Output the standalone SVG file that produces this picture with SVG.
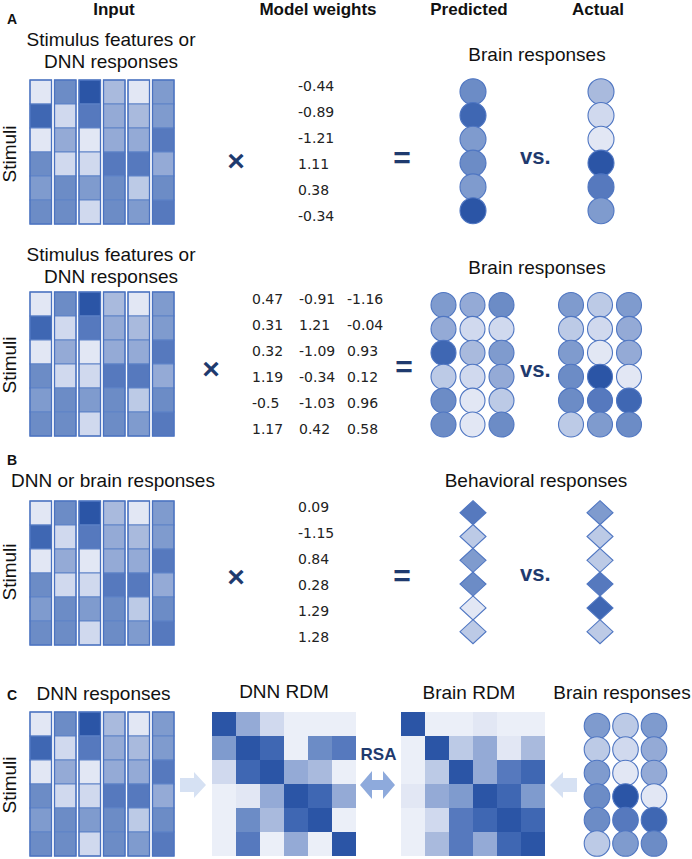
<svg xmlns="http://www.w3.org/2000/svg" xmlns:xlink="http://www.w3.org/1999/xlink" width="692" height="859" viewBox="0 0 692 859">
<style>
.c0{fill:#e2e7f4}.c1{fill:#d0d9ee}.c2{fill:#bccae6}.c3{fill:#a9badd}.c4{fill:#94aad6}
.c5{fill:#7f9bce}.c6{fill:#6c8cc6}.c7{fill:#5679be}.c8{fill:#3f67b3}.c9{fill:#2b55a6}.r0{fill:#ebeff8}
.cell rect{stroke:#5f83c8;stroke-width:1}
.colo{fill:none;stroke:#4a72c0;stroke-width:1.3}
.dot circle,.dot polygon{stroke:#4f76c2;stroke-width:1.1}
.t{font-family:"Liberation Sans",Arial,sans-serif;font-size:19px;fill:#111}
.h{font-family:"Liberation Sans",Arial,sans-serif;font-size:17px;font-weight:bold;fill:#111;text-anchor:middle}
.lab{font-family:"Liberation Sans",Arial,sans-serif;font-size:14px;font-weight:bold;fill:#111}
.w{font-family:"DejaVu Sans",sans-serif;font-size:14px;fill:#222}
.op{font-family:"Liberation Sans",Arial,sans-serif;font-size:30px;font-weight:bold;fill:#1f3a6e;text-anchor:middle}
.vs{font-family:"Liberation Sans",Arial,sans-serif;font-size:22px;font-weight:bold;fill:#1f3a6e}
.mid{text-anchor:middle}
.la{fill:#d6e1f3}.da{fill:#8eaadc}
</style>
<defs>
<g id="mat">
<g class="cell">
<rect class="c0" x="30" y="0" width="21.5" height="24"/><rect class="c8" x="30" y="24" width="21.5" height="24"/><rect class="c0" x="30" y="48" width="21.5" height="24"/><rect class="c6" x="30" y="72" width="21.5" height="24"/><rect class="c5" x="30" y="96" width="21.5" height="24"/><rect class="c6" x="30" y="120" width="21.5" height="24"/>
<rect class="c6" x="54.5" y="0" width="21.5" height="24"/><rect class="c1" x="54.5" y="24" width="21.5" height="24"/><rect class="c4" x="54.5" y="48" width="21.5" height="24"/><rect class="c1" x="54.5" y="72" width="21.5" height="24"/><rect class="c6" x="54.5" y="96" width="21.5" height="24"/><rect class="c6" x="54.5" y="120" width="21.5" height="24"/>
<rect class="c9" x="79" y="0" width="21.5" height="24"/><rect class="c7" x="79" y="24" width="21.5" height="24"/><rect class="c0" x="79" y="48" width="21.5" height="24"/><rect class="c1" x="79" y="72" width="21.5" height="24"/><rect class="c5" x="79" y="96" width="21.5" height="24"/><rect class="c1" x="79" y="120" width="21.5" height="24"/>
<rect class="c3" x="103.5" y="0" width="21.5" height="24"/><rect class="c4" x="103.5" y="24" width="21.5" height="24"/><rect class="c4" x="103.5" y="48" width="21.5" height="24"/><rect class="c7" x="103.5" y="72" width="21.5" height="24"/><rect class="c6" x="103.5" y="96" width="21.5" height="24"/><rect class="c6" x="103.5" y="120" width="21.5" height="24"/>
<rect class="c0" x="128" y="0" width="21.5" height="24"/><rect class="c3" x="128" y="24" width="21.5" height="24"/><rect class="c4" x="128" y="48" width="21.5" height="24"/><rect class="c7" x="128" y="72" width="21.5" height="24"/><rect class="c2" x="128" y="96" width="21.5" height="24"/><rect class="c5" x="128" y="120" width="21.5" height="24"/>
<rect class="c5" x="152.5" y="0" width="21.5" height="24"/><rect class="c5" x="152.5" y="24" width="21.5" height="24"/><rect class="c7" x="152.5" y="48" width="21.5" height="24"/><rect class="c4" x="152.5" y="72" width="21.5" height="24"/><rect class="c6" x="152.5" y="96" width="21.5" height="24"/><rect class="c7" x="152.5" y="120" width="21.5" height="24"/>
</g>
<rect class="colo" x="30" y="0" width="21.5" height="144"/><rect class="colo" x="54.5" y="0" width="21.5" height="144"/><rect class="colo" x="79" y="0" width="21.5" height="144"/><rect class="colo" x="103.5" y="0" width="21.5" height="144"/><rect class="colo" x="128" y="0" width="21.5" height="144"/><rect class="colo" x="152.5" y="0" width="21.5" height="144"/>
</g>
</defs>

<g id="headers">
<text class="h" x="114" y="15">Input</text>
<text class="h" x="318" y="15">Model weights</text>
<text class="h" x="469" y="15">Predicted</text>
<text class="h" x="598" y="15">Actual</text>
<text class="lab" x="7" y="24">A</text>
<text class="lab" x="7" y="465">B</text>
<text class="lab" x="7" y="700">C</text>
</g>

<!-- A1 -->
<g id="a1-input">
<text class="t mid" x="111" y="46">Stimulus features or</text>
<text class="t mid" x="111" y="68">DNN responses</text>
<text class="t mid" transform="translate(16,154) rotate(-90)">Stimuli</text>
<use xlink:href="#mat" href="#mat" y="80"/>
</g>
<g id="a1-weights">
<text class="w" x="298" y="91">-0.44</text>
<text class="w" x="298" y="117">-0.89</text>
<text class="w" x="298" y="143">-1.21</text>
<text class="w" x="298" y="169">1.11</text>
<text class="w" x="298" y="195">0.38</text>
<text class="w" x="298" y="221">-0.34</text>
</g>
<g id="a1-ops">
<text class="op" x="236" y="170.5">×</text>
<text class="op" x="402" y="167.5">=</text>
<text class="vs" x="520" y="164">vs.</text>
</g>
<g id="a1-brain">
<text class="t mid" x="537" y="61">Brain responses</text>
<g class="dot">
<circle class="c6" cx="473" cy="91.7" r="13"/><circle class="c8" cx="473" cy="115.5" r="13"/><circle class="c5" cx="473" cy="139.3" r="13"/><circle class="c6" cx="473" cy="163.1" r="13"/><circle class="c5" cx="473" cy="186.9" r="13"/><circle class="c9" cx="473" cy="210.7" r="13"/>
<circle class="c3" cx="601" cy="91.7" r="13"/><circle class="c1" cx="601" cy="115.5" r="13"/><circle class="c0" cx="601" cy="139.3" r="13"/><circle class="c9" cx="601" cy="163.1" r="13"/><circle class="c7" cx="601" cy="186.9" r="13"/><circle class="c5" cx="601" cy="210.7" r="13"/>
</g>
</g>

<!-- A2 -->
<g id="a2-input">
<text class="t mid" x="111" y="261">Stimulus features or</text>
<text class="t mid" x="111" y="283">DNN responses</text>
<text class="t mid" transform="translate(16,365) rotate(-90)">Stimuli</text>
<use xlink:href="#mat" href="#mat" y="292"/>
</g>
<g id="a2-weights">
<text class="w" x="252" y="304">0.47</text><text class="w" x="299" y="304">-0.91</text><text class="w" x="347" y="304">-1.16</text>
<text class="w" x="252" y="330">0.31</text><text class="w" x="299" y="330">1.21</text><text class="w" x="347" y="330">-0.04</text>
<text class="w" x="252" y="356">0.32</text><text class="w" x="299" y="356">-1.09</text><text class="w" x="347" y="356">0.93</text>
<text class="w" x="252" y="382">1.19</text><text class="w" x="299" y="382">-0.34</text><text class="w" x="347" y="382">0.12</text>
<text class="w" x="252" y="408">-0.5</text><text class="w" x="299" y="408">-1.03</text><text class="w" x="347" y="408">0.96</text>
<text class="w" x="252" y="434">1.17</text><text class="w" x="299" y="434">0.42</text><text class="w" x="347" y="434">0.58</text>
</g>
<g id="a2-ops">
<text class="op" x="211" y="378.5">×</text>
<text class="op" x="404" y="376.5">=</text>
<text class="vs" x="520" y="377">vs.</text>
</g>
<g id="a2-brain">
<text class="t mid" x="537" y="274">Brain responses</text>
<g class="dot">
<circle class="c5" cx="443.5" cy="305" r="12.5"/><circle class="c4" cx="443.5" cy="328.9" r="12.5"/><circle class="c8" cx="443.5" cy="352.8" r="12.5"/><circle class="c2" cx="443.5" cy="376.7" r="12.5"/><circle class="c6" cx="443.5" cy="400.6" r="12.5"/><circle class="c6" cx="443.5" cy="424.5" r="12.5"/>
<circle class="c4" cx="472.5" cy="305" r="12.5"/><circle class="c1" cx="472.5" cy="328.9" r="12.5"/><circle class="c3" cx="472.5" cy="352.8" r="12.5"/><circle class="c1" cx="472.5" cy="376.7" r="12.5"/><circle class="c0" cx="472.5" cy="400.6" r="12.5"/><circle class="c0" cx="472.5" cy="424.5" r="12.5"/>
<circle class="c6" cx="501.5" cy="305" r="12.5"/><circle class="c1" cx="501.5" cy="328.9" r="12.5"/><circle class="c5" cx="501.5" cy="352.8" r="12.5"/><circle class="c4" cx="501.5" cy="376.7" r="12.5"/><circle class="c2" cx="501.5" cy="400.6" r="12.5"/><circle class="c6" cx="501.5" cy="424.5" r="12.5"/>
<circle class="c5" cx="571" cy="305" r="12.5"/><circle class="c2" cx="571" cy="328.9" r="12.5"/><circle class="c5" cx="571" cy="352.8" r="12.5"/><circle class="c6" cx="571" cy="376.7" r="12.5"/><circle class="c6" cx="571" cy="400.6" r="12.5"/><circle class="c2" cx="571" cy="424.5" r="12.5"/>
<circle class="c2" cx="600" cy="305" r="12.5"/><circle class="c1" cx="600" cy="328.9" r="12.5"/><circle class="c0" cx="600" cy="352.8" r="12.5"/><circle class="c9" cx="600" cy="376.7" r="12.5"/><circle class="c7" cx="600" cy="400.6" r="12.5"/><circle class="c5" cx="600" cy="424.5" r="12.5"/>
<circle class="c5" cx="629" cy="305" r="12.5"/><circle class="c4" cx="629" cy="328.9" r="12.5"/><circle class="c4" cx="629" cy="352.8" r="12.5"/><circle class="c0" cx="629" cy="376.7" r="12.5"/><circle class="c8" cx="629" cy="400.6" r="12.5"/><circle class="c6" cx="629" cy="424.5" r="12.5"/>
</g>
</g>

<!-- B -->
<g id="b-input">
<text class="t mid" x="113" y="487">DNN or brain responses</text>
<text class="t mid" transform="translate(16,572) rotate(-90)">Stimuli</text>
<use xlink:href="#mat" href="#mat" y="501"/>
</g>
<g id="b-weights">
<text class="w" x="298" y="512">0.09</text>
<text class="w" x="298" y="538">-1.15</text>
<text class="w" x="298" y="564">0.84</text>
<text class="w" x="298" y="590">0.28</text>
<text class="w" x="298" y="616">1.29</text>
<text class="w" x="298" y="642">1.28</text>
</g>
<g id="b-ops">
<text class="op" x="236" y="586.5">×</text>
<text class="op" x="402" y="585.5">=</text>
<text class="vs" x="520" y="581">vs.</text>
</g>
<g id="b-behavior">
<text class="t mid" x="536" y="487">Behavioral responses</text>
<g class="dot">
<polygon class="c7" points="473,500.7 486,512.7 473,524.7 460,512.7"/>
<polygon class="c2" points="473,524.5 486,536.5 473,548.5 460,536.5"/>
<polygon class="c5" points="473,548.3 486,560.3 473,572.3 460,560.3"/>
<polygon class="c6" points="473,572.1 486,584.1 473,596.1 460,584.1"/>
<polygon class="c0" points="473,595.9 486,607.9 473,619.9 460,607.9"/>
<polygon class="c2" points="473,619.7 486,631.7 473,643.7 460,631.7"/>
<polygon class="c5" points="600,500.7 613,512.7 600,524.7 587,512.7"/>
<polygon class="c2" points="600,524.5 613,536.5 600,548.5 587,536.5"/>
<polygon class="c2" points="600,548.3 613,560.3 600,572.3 587,560.3"/>
<polygon class="c7" points="600,572.1 613,584.1 600,596.1 587,584.1"/>
<polygon class="c8" points="600,595.9 613,607.9 600,619.9 587,607.9"/>
<polygon class="c2" points="600,619.7 613,631.7 600,643.7 587,631.7"/>
</g>
</g>

<!-- C -->
<g id="c-dnn">
<text class="t mid" x="103.5" y="700">DNN responses</text>
<text class="t mid" transform="translate(16,785) rotate(-90)">Stimuli</text>
<use xlink:href="#mat" href="#mat" y="712"/>
</g>
<g id="c-dnn-rdm">
<text class="t mid" x="284" y="698">DNN RDM</text>
<rect class="c9" x="212" y="712" width="24" height="24"/><rect class="c4" x="236" y="712" width="24" height="24"/><rect class="c1" x="260" y="712" width="24" height="24"/><rect class="r0" x="284" y="712" width="24" height="24"/><rect class="r0" x="308" y="712" width="24" height="24"/><rect class="r0" x="332" y="712" width="24" height="24"/>
<rect class="c5" x="212" y="736" width="24" height="24"/><rect class="c9" x="236" y="736" width="24" height="24"/><rect class="c8" x="260" y="736" width="24" height="24"/><rect class="r0" x="284" y="736" width="24" height="24"/><rect class="c6" x="308" y="736" width="24" height="24"/><rect class="c7" x="332" y="736" width="24" height="24"/>
<rect class="c1" x="212" y="760" width="24" height="24"/><rect class="c8" x="236" y="760" width="24" height="24"/><rect class="c9" x="260" y="760" width="24" height="24"/><rect class="c4" x="284" y="760" width="24" height="24"/><rect class="c3" x="308" y="760" width="24" height="24"/><rect class="r0" x="332" y="760" width="24" height="24"/>
<rect class="r0" x="212" y="784" width="24" height="24"/><rect class="c0" x="236" y="784" width="24" height="24"/><rect class="c4" x="260" y="784" width="24" height="24"/><rect class="c9" x="284" y="784" width="24" height="24"/><rect class="c8" x="308" y="784" width="24" height="24"/><rect class="c4" x="332" y="784" width="24" height="24"/>
<rect class="r0" x="212" y="808" width="24" height="24"/><rect class="c6" x="236" y="808" width="24" height="24"/><rect class="c3" x="260" y="808" width="24" height="24"/><rect class="c8" x="284" y="808" width="24" height="24"/><rect class="c9" x="308" y="808" width="24" height="24"/><rect class="r0" x="332" y="808" width="24" height="24"/>
<rect class="r0" x="212" y="832" width="24" height="24"/><rect class="c7" x="236" y="832" width="24" height="24"/><rect class="r0" x="260" y="832" width="24" height="24"/><rect class="c4" x="284" y="832" width="24" height="24"/><rect class="r0" x="308" y="832" width="24" height="24"/><rect class="c9" x="332" y="832" width="24" height="24"/>
</g>
<g id="c-brain-rdm">
<text class="t mid" x="469" y="699">Brain RDM</text>
<rect class="c9" x="401" y="712" width="24" height="24"/><rect class="r0" x="425" y="712" width="24" height="24"/><rect class="r0" x="449" y="712" width="24" height="24"/><rect class="c0" x="473" y="712" width="24" height="24"/><rect class="r0" x="497" y="712" width="24" height="24"/><rect class="r0" x="521" y="712" width="24" height="24"/>
<rect class="r0" x="401" y="736" width="24" height="24"/><rect class="c9" x="425" y="736" width="24" height="24"/><rect class="c2" x="449" y="736" width="24" height="24"/><rect class="c4" x="473" y="736" width="24" height="24"/><rect class="c0" x="497" y="736" width="24" height="24"/><rect class="c3" x="521" y="736" width="24" height="24"/>
<rect class="r0" x="401" y="760" width="24" height="24"/><rect class="c2" x="425" y="760" width="24" height="24"/><rect class="c9" x="449" y="760" width="24" height="24"/><rect class="c4" x="473" y="760" width="24" height="24"/><rect class="c7" x="497" y="760" width="24" height="24"/><rect class="c8" x="521" y="760" width="24" height="24"/>
<rect class="c0" x="401" y="784" width="24" height="24"/><rect class="c4" x="425" y="784" width="24" height="24"/><rect class="c5" x="449" y="784" width="24" height="24"/><rect class="c9" x="473" y="784" width="24" height="24"/><rect class="c8" x="497" y="784" width="24" height="24"/><rect class="c5" x="521" y="784" width="24" height="24"/>
<rect class="r0" x="401" y="808" width="24" height="24"/><rect class="c1" x="425" y="808" width="24" height="24"/><rect class="c7" x="449" y="808" width="24" height="24"/><rect class="c8" x="473" y="808" width="24" height="24"/><rect class="c9" x="497" y="808" width="24" height="24"/><rect class="c8" x="521" y="808" width="24" height="24"/>
<rect class="r0" x="401" y="832" width="24" height="24"/><rect class="c3" x="425" y="832" width="24" height="24"/><rect class="c7" x="449" y="832" width="24" height="24"/><rect class="c4" x="473" y="832" width="24" height="24"/><rect class="c8" x="497" y="832" width="24" height="24"/><rect class="c9" x="521" y="832" width="24" height="24"/>
</g>
<g id="c-brain">
<text class="t mid" x="622" y="699">Brain responses</text>
<g class="dot">
<circle class="c5" cx="597" cy="726" r="12.8"/><circle class="c2" cx="597" cy="749.5" r="12.8"/><circle class="c5" cx="597" cy="773" r="12.8"/><circle class="c6" cx="597" cy="796.5" r="12.8"/><circle class="c6" cx="597" cy="820" r="12.8"/><circle class="c2" cx="597" cy="843.5" r="12.8"/>
<circle class="c2" cx="625.5" cy="726" r="12.8"/><circle class="c1" cx="625.5" cy="749.5" r="12.8"/><circle class="c0" cx="625.5" cy="773" r="12.8"/><circle class="c9" cx="625.5" cy="796.5" r="12.8"/><circle class="c7" cx="625.5" cy="820" r="12.8"/><circle class="c5" cx="625.5" cy="843.5" r="12.8"/>
<circle class="c5" cx="654" cy="726" r="12.8"/><circle class="c4" cx="654" cy="749.5" r="12.8"/><circle class="c4" cx="654" cy="773" r="12.8"/><circle class="c0" cx="654" cy="796.5" r="12.8"/><circle class="c8" cx="654" cy="820" r="12.8"/><circle class="c6" cx="654" cy="843.5" r="12.8"/>
</g>
</g>
<g id="connectors">
<polygon class="la" points="180,778 194,778 194,772 206,785 194,798 194,792 180,792"/>
<polygon class="la" points="577,778 563,778 563,772 550,785 563,798 563,792 577,792"/>
<polygon class="da" points="360,785 372,771 372,780 383,780 383,771 395,785 383,799 383,790 372,790 372,799"/>
<text class="h" x="378.5" y="760" style="fill:#1f3a6e">RSA</text>
</g>
</svg>
